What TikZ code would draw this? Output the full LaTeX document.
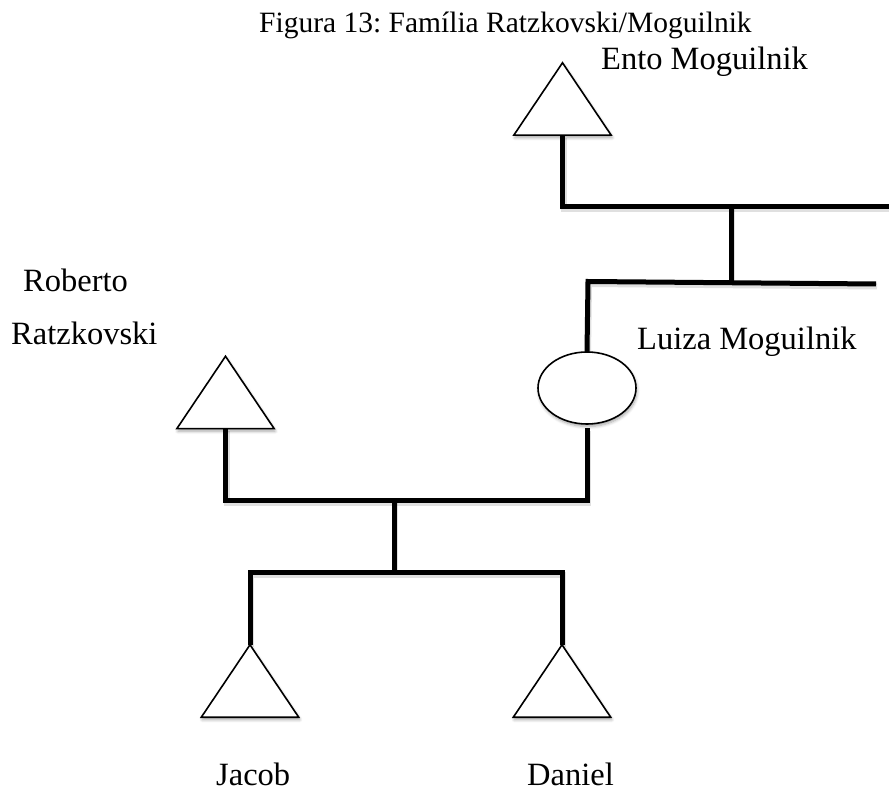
\documentclass[tikz,border=0pt]{standalone}
\usepackage{fontspec}
\setmainfont{Liberation Serif}
\usetikzlibrary{shapes.geometric,shadows.blur}
\frenchspacing

\tikzset{
  box/.style={draw=none, inner sep=0pt, minimum width=97pt, minimum height=72pt},
  outline/.style={draw=black, line width=1.6pt, fill=white, line join=miter,
    blur shadow={shadow xshift=1pt, shadow yshift=-2.5pt, shadow blur steps=6,
                 shadow blur radius=3pt, shadow opacity=35}},
  bond/.style={draw=black, line width=5pt, line join=miter, line cap=butt},
  bondshade/.style={draw=black, line width=6pt, line join=miter, opacity=0.12,
    transform canvas={shift={(1pt,-2.5pt)}}},
  lbl/.style={inner sep=0pt, anchor=base west, font=\fontsize{32.5}{38}\selectfont},
  ttl/.style={inner sep=0pt, anchor=base west, font=\fontsize{29.5}{34}\selectfont}
}

\begin{document}
\begin{tikzpicture}[x=1pt,y=1pt]
\useasboundingbox (0,0) rectangle (889,-791);

% anchor boxes for the triangles and the oval
\node[box] (ento)    at (562.5,-99) {};
\node[box] (roberto) at (225.5,-392.5) {};
\node[box] (jacob)   at (250,-681) {};
\node[box] (daniel)  at (562,-681) {};
\node[draw=none, ellipse, inner sep=0pt, minimum width=98pt, minimum height=72pt] (luiza) at (587,-388) {};

% joints of the kinship lines
\coordinate (tl) at (ento.south |- 0,-207);
\coordinate (tr) at (889,-207);
\coordinate (tm) at (731,-207);
\coordinate (ml) at (588,-281.5);
\coordinate (mr) at (876,-284);
\coordinate (mm) at (731,-282);
\coordinate (lgap) at ([yshift=-4pt]luiza.south);
\coordinate (ul) at (roberto.south |- 0,-500);
\coordinate (ur) at (luiza.south |- 0,-500);
\coordinate (um) at (394,-500);
\coordinate (cm) at (394,-572);
\coordinate (cl) at (jacob.north |- 0,-572);
\coordinate (cr) at (daniel.north |- 0,-572);

% soft shade under the lines
\path[bondshade] (ento.south) -- (tl) -- (tr);
\path[bondshade] (tm) -- (mm);
\path[bondshade] (mr) -- (ml) -- (luiza.north);
\path[bondshade] (roberto.south) -- (ul) -- (ur) -- (lgap);
\path[bondshade] (um) -- (cm);
\path[bondshade] (jacob.north) -- (cl) -- (cr) -- (daniel.north);

% kinship lines
\draw[bond] (ento.south) -- (tl) -- (tr);
\draw[bond] (tm) -- (mm);
\draw[bond] (mr) -- (ml) -- (luiza.north);
\draw[bond] (roberto.south) -- (ul) -- (ur) -- (lgap);
\draw[bond] (um) -- (cm);
\draw[bond] (jacob.north) -- (cl) -- (cr) -- (daniel.north);

% people: triangles for men, oval for the woman
\foreach \n in {ento,roberto,jacob,daniel}{
  \path[outline] (\n.north) -- (\n.south east) -- (\n.south west) -- cycle;
}
\path[outline] (luiza.center) ellipse [x radius=49pt, y radius=36pt];

% texts
\node[ttl] (title) at (259,-33) {Figura 13: Família Ratzkovski/Moguilnik};
\node[lbl] (tEnto) at (601,-70) {Ento Moguilnik};
\node[lbl] (tRob1) at (23,-292) {Roberto};
\node[lbl] (tRob2) at (11,-345) {Ratzkovski};
\node[lbl] (tLui) at (637,-350) {Luiza Moguilnik};
\node[lbl] (tJac) at (216,-785) {Jacob};
\node[lbl] (tDan) at (527,-785) {Daniel};
\end{tikzpicture}
\end{document}
